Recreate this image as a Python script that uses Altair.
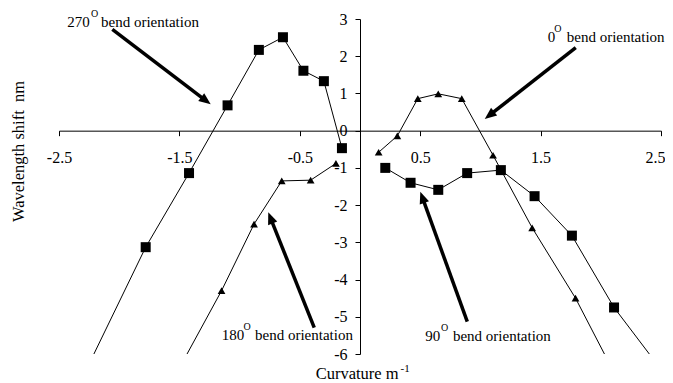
import math
import altair as alt
import pandas as pd

W, H = 602, 335
XDOM = [-2.5, 2.5]
YDOM = [-6, 3]
FONT = "Liberation Serif"

# ---- data series ----
s270_x = [-2.30, -1.78, -1.42, -1.10, -0.84, -0.64, -0.47, -0.30, -0.15]
s270_y = [-6.60, -3.13, -1.14, 0.68, 2.17, 2.51, 1.61, 1.33, -0.47]
s180_x = [-1.60, -1.15, -0.88, -0.65, -0.41, -0.20]
s180_y = [-6.97, -4.30, -2.51, -1.35, -1.33, -0.88]
s0_x = [0.155, 0.31, 0.48, 0.65, 0.845, 1.105, 1.43, 1.79, 2.20]
s0_y = [-0.58, -0.14, 0.86, 0.99, 0.86, -0.66, -2.61, -4.50, -7.06]
s90_x = [0.21, 0.42, 0.65, 0.89, 1.17, 1.45, 1.76, 2.11, 2.60]
s90_y = [-1.00, -1.40, -1.59, -1.14, -1.06, -1.76, -2.82, -4.75, -6.84]

x_ticks = [-2.5, -1.5, -0.5, 0.5, 1.5, 2.5]
y_ticks = [3, 2, 1, 0, -1, -2, -3, -4, -5, -6]

# ---- annotations ----
ann_num = ["270", "0", "180", "90"]
ann_num_x = [-2.431, 1.559, -1.149, 0.542]
ann_y = [2.793, 2.390, -5.624, -5.651]
ann_sup_x = [-2.234, 1.614, -0.968, 0.673]
ann_sup_y = [3.062, 2.659, -5.356, -5.382]
ann_txt_x = [-2.151, 1.717, -0.872, 0.772]
ann_txt = "bend orientation"

arr_tail_x = [-2.057, 1.792, -0.380, 0.891]
arr_tail_y = [2.724, 2.229, -5.294, -5.132]
arr_tip_x = [-1.240, 1.036, -0.762, 0.501]
arr_tip_y = [0.708, 0.314, -2.193, -1.640]

# ---- build tables ----
rows = []
for name, xs, ys, mk in [("270", s270_x, s270_y, "square"),
                         ("180", s180_x, s180_y, "triangle"),
                         ("0", s0_x, s0_y, "triangle"),
                         ("90", s90_x, s90_y, "square")]:
    for i, (a, b) in enumerate(zip(xs, ys)):
        rows.append({"series": name, "x": a, "y": b, "marker": mk, "idx": i})
df = pd.DataFrame(rows)

sx = W / (XDOM[1] - XDOM[0])
sy = H / (YDOM[1] - YDOM[0])
HEAD_R = 7.0
arows = []
for tx, ty, px, py in zip(arr_tail_x, arr_tail_y, arr_tip_x, arr_tip_y):
    dxp = (px - tx) * sx
    dyp = -(py - ty) * sy
    L = math.hypot(dxp, dyp)
    ux, uy = dxp / L, dyp / L
    cx = px - HEAD_R * ux / sx
    cy = py + HEAD_R * uy / sy
    ang = math.degrees(math.atan2(dxp, -dyp)) % 360
    arows.append({"x": tx, "y": ty, "x2": cx, "y2": cy, "hx": cx, "hy": cy, "ang": ang})
adf = pd.DataFrame(arows)

tdf = pd.DataFrame({"num": ann_num, "nx": ann_num_x, "y": ann_y,
                    "sx": ann_sup_x, "sy": ann_sup_y, "tx": ann_txt_x,
                    "sup": ["O"] * 4, "txt": [ann_txt] * 4})

xscale = alt.Scale(domain=XDOM, nice=False, zero=False)
yscale = alt.Scale(domain=YDOM, nice=False, zero=False)

xaxis = alt.Axis(values=x_ticks, offset=-(H * (-YDOM[0]) / (YDOM[1] - YDOM[0])),
                 tickSize=5, labelPadding=14, labelFont=FONT, labelFontSize=16,
                 labelColor="black", domainColor="black", tickColor="black",
                 grid=False, title=None, labelExpr="toString(datum.value)",
                 labelFlush=False, labelOverlap=False,
                 labelOffset={"condition": {"test": "datum.value === 2.5", "value": -6},
                              "value": 0})
yaxis = alt.Axis(values=y_ticks, offset=-(W * (-XDOM[0]) / (XDOM[1] - XDOM[0])),
                 tickSize=5, labelPadding=8, labelFont=FONT, labelFontSize=16,
                 labelColor="black", domainColor="black", tickColor="black",
                 grid=False, title=None, labelExpr="toString(datum.value)",
                 labelBaseline="middle", labelFlush=False, labelOverlap=False)

X = lambda f: alt.X(f"{f}:Q", scale=xscale, axis=xaxis)
Y = lambda f: alt.Y(f"{f}:Q", scale=yscale, axis=yaxis)

base = alt.Chart(df)
lines = base.mark_line(color="black", strokeWidth=1, clip=True).encode(
    x=X("x"), y=Y("y"), detail="series:N", order="idx:Q")
squares = base.transform_filter(alt.datum.marker == "square").mark_point(
    shape="square", filled=True, size=100, color="black", opacity=1, clip=True
).encode(x=X("x"), y=Y("y"))
tris = base.transform_filter(alt.datum.marker == "triangle").mark_point(
    shape="triangle-up", filled=True, size=60, color="black", opacity=1, clip=True
).encode(x=X("x"), y=Y("y"))

shafts = alt.Chart(adf).mark_rule(color="black", strokeWidth=3.5).encode(
    x=X("x"), y=Y("y"), x2="x2:Q", y2="y2:Q")
heads = alt.Chart(adf).mark_point(
    shape="M0,-1L0.7,0.7L-0.7,0.7Z", filled=True, size=(2 * HEAD_R) ** 2,
    color="black", opacity=1).encode(
    x=X("hx"), y=Y("hy"), angle=alt.Angle("ang:Q", scale=None))

tnum = alt.Chart(tdf).mark_text(align="left", baseline="alphabetic", font=FONT,
                                fontSize=15, color="black").encode(
    x=X("nx"), y=Y("y"), text="num:N")
tsup = alt.Chart(tdf).mark_text(align="left", baseline="alphabetic", font=FONT,
                                fontSize=10, color="black").encode(
    x=X("sx"), y=Y("sy"), text="sup:N")
ttxt = alt.Chart(tdf).mark_text(align="left", baseline="alphabetic", font=FONT,
                                fontSize=15, color="black").encode(
    x=X("tx"), y=Y("y"), text="txt:N")

one = pd.DataFrame({"k": [0]})
ytitle = alt.Chart(one).mark_text(font=FONT, fontSize=16.5, color="black",
                                  angle=270, align="center", baseline="middle").encode(
    x=alt.value(-40), y=alt.value(132.5), text=alt.value("Wavelength shift\u00a0 nm"))
xtitle = alt.Chart(one).mark_text(font=FONT, fontSize=16.5, color="black",
                                  align="left", baseline="alphabetic").encode(
    x=alt.value(256.7), y=alt.value(360.3), text=alt.value("Curvature m"))
xtitle_sup = alt.Chart(one).mark_text(font=FONT, fontSize=11, color="black",
                                      align="left", baseline="alphabetic").encode(
    x=alt.value(341.5), y=alt.value(353), text=alt.value("-1"))

chart = alt.layer(lines, squares, tris, shafts, heads, tnum, tsup, ttxt,
                  ytitle, xtitle, xtitle_sup).properties(
    width=W, height=H,
    autosize=alt.AutoSizeParams(type="none"),
    padding={"left": 51, "top": 11, "right": 4, "bottom": 29},
    background="white",
).configure_view(stroke=None)

chart.save("out.html", embed_options={"renderer": "svg", "actions": False})
